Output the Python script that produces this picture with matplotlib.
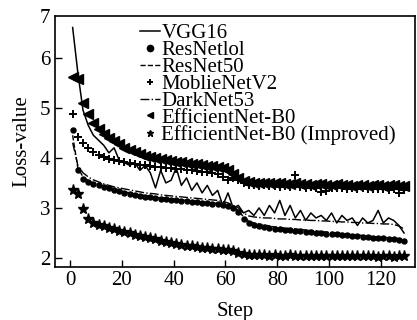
import numpy as np
import matplotlib
matplotlib.use('Agg')
import matplotlib.pyplot as plt

plt.rcParams['font.family'] = ['Liberation Serif', 'DejaVu Serif']
plt.rcParams['mathtext.fontset'] = 'stix'

# 训练步数 (每隔2步读取一次)
steps = np.arange(1, 130, 2)

vgg16 = [6.6, 5.7, 4.95, 4.65, 4.45, 4.35, 4.25, 4.1, 4.2, 3.95,
         3.9, 3.85, 3.9, 3.75, 3.85, 3.7, 3.4, 3.75, 3.5, 3.55,
         3.8, 3.45, 3.6, 3.35, 3.5, 3.3, 3.45, 3.25, 3.35, 3.05,
         3.3, 3.0, 3.05, 2.9, 2.95, 2.85, 3.0, 2.85, 3.05, 2.9,
         3.15, 2.85, 3.05, 2.8, 2.95, 2.75, 2.9, 2.8, 2.85, 2.75,
         2.9, 2.7, 2.85, 2.75, 2.8, 2.65, 2.8, 2.7, 2.75, 2.95,
         2.7, 2.8, 2.75, 2.65, 2.5]

resnet101 = [4.55, 3.75, 3.58, 3.52, 3.48, 3.45, 3.42, 3.39, 3.36, 3.33,
             3.3, 3.28, 3.26, 3.24, 3.22, 3.21, 3.2, 3.18, 3.17, 3.16,
             3.15, 3.14, 3.13, 3.12, 3.12, 3.1, 3.09, 3.08, 3.07, 3.06,
             3.04, 3.0, 2.92, 2.78, 2.7, 2.66, 2.64, 2.62, 2.6, 2.58,
             2.57, 2.56, 2.55, 2.54, 2.53, 2.52, 2.51, 2.5, 2.49, 2.48,
             2.47, 2.47, 2.46, 2.45, 2.44, 2.43, 2.42, 2.41, 2.4, 2.4,
             2.39, 2.38, 2.37, 2.36, 2.35]

resnet50 = [4.45, 3.8, 3.62, 3.55, 3.5, 3.47, 3.44, 3.41, 3.38, 3.35,
            3.32, 3.3, 3.28, 3.26, 3.25, 3.23, 3.22, 3.2, 3.19, 3.18,
            3.17, 3.16, 3.15, 3.14, 3.13, 3.12, 3.11, 3.1, 3.09, 3.08,
            3.06, 3.02, 2.95, 2.82, 2.74, 2.7, 2.68, 2.66, 2.64, 2.62,
            2.61, 2.6, 2.59, 2.58, 2.57, 2.56, 2.55, 2.54, 2.53, 2.52,
            2.51, 2.5, 2.49, 2.48, 2.47, 2.46, 2.45, 2.44, 2.43, 2.42,
            2.41, 2.41, 2.4, 2.39, 2.38]

mobilenet = [4.88, 4.42, 4.3, 4.2, 4.12, 4.06, 4.02, 3.98, 3.96, 3.94,
             3.92, 3.9, 3.88, 3.86, 3.85, 3.84, 3.82, 3.82, 3.8, 3.79,
             3.78, 3.77, 3.76, 3.75, 3.74, 3.72, 3.72, 3.7, 3.68, 3.62,
             3.55, 3.6, 3.55, 3.5, 3.46, 3.45, 3.44, 3.45, 3.43, 3.44,
             3.42, 3.43, 3.42, 3.66, 3.42, 3.4, 3.41, 3.4, 3.32, 3.33,
             3.4, 3.39, 3.4, 3.38, 3.39, 3.38, 3.39, 3.38, 3.37, 3.38,
             3.37, 3.36, 3.38, 3.3, 3.35]

darknet = [4.3, 3.85, 3.7, 3.62, 3.56, 3.52, 3.48, 3.45, 3.42, 3.4,
           3.38, 3.36, 3.34, 3.32, 3.3, 3.29, 3.28, 3.26, 3.25, 3.24,
           3.23, 3.22, 3.21, 3.2, 3.19, 3.18, 3.17, 3.16, 3.15, 3.13,
           3.1, 3.05, 3.0, 2.9, 2.84, 2.82, 2.81, 2.8, 2.8, 2.79,
           2.78, 2.78, 2.77, 2.77, 2.76, 2.76, 2.75, 2.75, 2.74, 2.74,
           2.73, 2.73, 2.72, 2.72, 2.71, 2.71, 2.7, 2.7, 2.69, 2.69,
           2.68, 2.68, 2.67, 2.64, 2.58]

effnet = [5.62, 5.57, 5.1, 4.87, 4.7, 4.58, 4.48, 4.4, 4.33, 4.27,
          4.2, 4.15, 4.11, 4.07, 4.04, 4.01, 3.99, 3.97, 3.95, 3.94,
          3.92, 3.91, 3.9, 3.88, 3.87, 3.86, 3.84, 3.83, 3.81, 3.79,
          3.75, 3.68, 3.6, 3.54, 3.51, 3.5, 3.5, 3.49, 3.5, 3.49,
          3.5, 3.48, 3.47, 3.49, 3.48, 3.47, 3.46, 3.48, 3.47, 3.46,
          3.45, 3.47, 3.46, 3.45, 3.44, 3.46, 3.45, 3.44, 3.46, 3.45,
          3.44, 3.46, 3.45, 3.43, 3.44]

effnet_imp = [3.35, 3.27, 2.98, 2.78, 2.7, 2.66, 2.63, 2.6, 2.57, 2.54,
              2.52, 2.49, 2.46, 2.43, 2.41, 2.39, 2.37, 2.35, 2.33, 2.3,
              2.29, 2.27, 2.25, 2.24, 2.23, 2.21, 2.2, 2.19, 2.18, 2.17,
              2.16, 2.14, 2.11, 2.08, 2.07, 2.07, 2.06, 2.06, 2.05, 2.06,
              2.05, 2.05, 2.06, 2.05, 2.04, 2.05, 2.05, 2.04, 2.05, 2.04,
              2.05, 2.04, 2.04, 2.05, 2.04, 2.04, 2.05, 2.04, 2.04, 2.03,
              2.04, 2.04, 2.03, 2.04, 2.04]

fs = 15

fig = plt.figure(figsize=(4.17, 3.2), dpi=100)
ax = fig.add_axes([0.132, 0.167, 0.863, 0.783])

ax.plot(steps, vgg16, '-', color='k', lw=1.1, label='VGG16')
ax.plot(steps, resnet101, 'o', color='k', ms=3.6, label='ResNetlol')
ax.plot(steps, resnet50, '--', color='k', lw=1.0, label='ResNet50')
ax.plot(steps, mobilenet, '+', color='k', ms=6, mew=1.4, label='MoblieNetV2')
ax.plot(steps, darknet, '-.', color='k', lw=1.0, label='DarkNet53')
ax.plot(steps, effnet, '<', color='k', ms=7, label='EfficientNet-B0')
ax.plot(steps, effnet_imp, '*', color='k', ms=8, label='EfficientNet-B0 (Improved)')

ax.set_xlim(-5.8, 133.2)
ax.set_ylim(1.83, 6.83)
ax.set_xticks([0, 20, 40, 60, 80, 100, 120])
ax.set_yticks([2, 3, 4, 5, 6])
ax.tick_params(direction='in', length=5, width=1, labelsize=fs, top=False, right=False)
ax.text(-0.015, 0.99, '7', transform=ax.transAxes, ha='right', va='center', fontsize=fs)
for s in ax.spines.values():
    s.set_linewidth(1.2)

ax.set_xlabel('Step', fontsize=fs, labelpad=8)
ax.set_ylabel('Loss-value', fontsize=fs, labelpad=6)

leg = ax.legend(loc='upper left', bbox_to_anchor=(0.235, 0.969), frameon=False, fontsize=fs,
                numpoints=1, handlelength=1.0, handletextpad=0.05, labelspacing=-0.13,
                borderpad=0, borderaxespad=0)
for h in leg.legend_handles:
    h.set_markersize(4.5)

plt.savefig('out.png', dpi=100)
